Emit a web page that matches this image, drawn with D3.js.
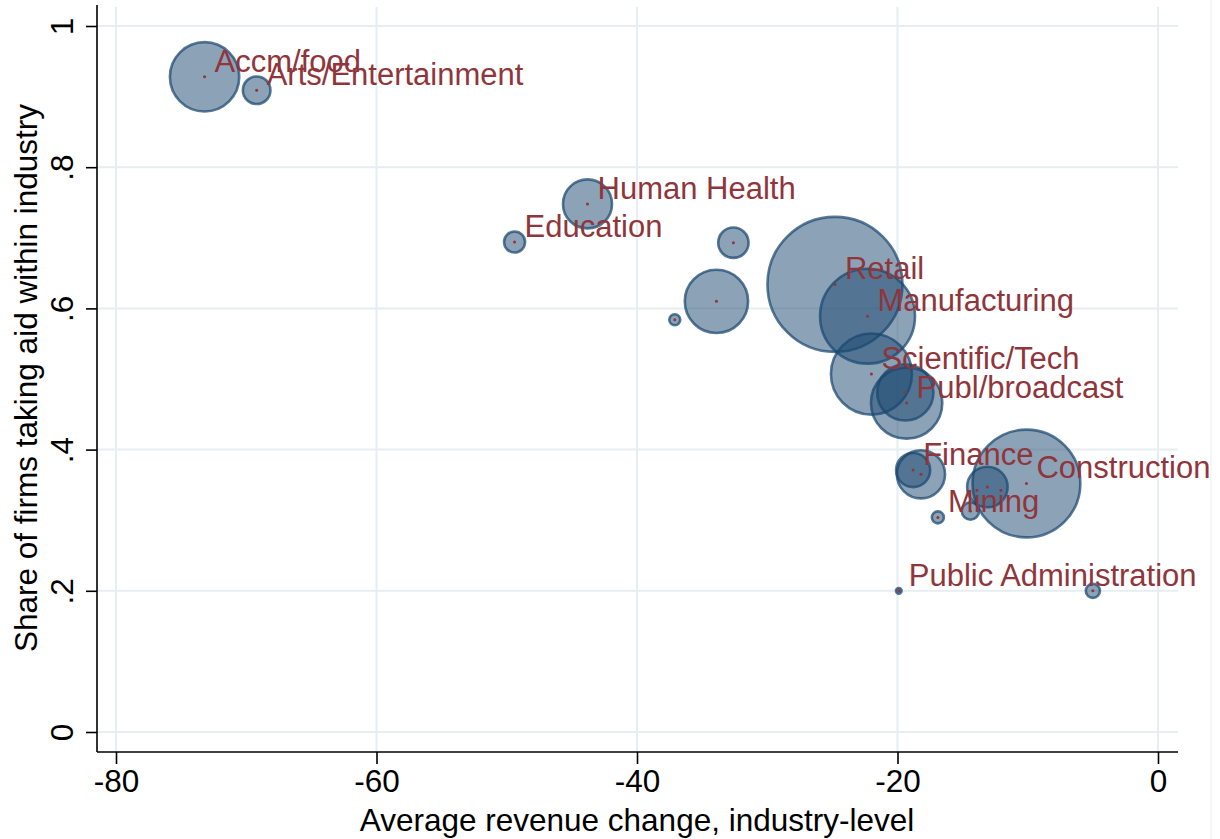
<!DOCTYPE html>
<html>
<head>
<meta charset="utf-8">
<script src="https://cdn.jsdelivr.net/npm/d3@7"></script>
<style>
  html, body { margin: 0; padding: 0; background: #ffffff; }
  svg { display: block; }
  text { font-family: "Liberation Sans", Arial, Helvetica, sans-serif; }
</style>
</head>
<body>
<svg id="chart" width="1220" height="839"></svg>
<script>
// ---- data ----
const industries = ["Accm/food", "Arts/Entertainment", "Human Health", "Education", "", "", "",
  "Retail", "Manufacturing", "Scientific/Tech", "", "Publ/broadcast", "Finance", "", "",
  "Construction", "", "Mining", "Public Administration", ""];
const revenueChange = [-73.2, -69.2, -43.8, -49.4, -32.6, -37.1, -33.9,
  -24.8, -22.3, -22.0, -19.4, -19.3, -18.8, -18.2, -13.1,
  -10.1, -14.4, -16.9, -19.9, -5.0];
const aidShare = [0.928, 0.909, 0.748, 0.694, 0.693, 0.584, 0.610,
  0.634, 0.589, 0.507, 0.481, 0.466, 0.371, 0.365, 0.347,
  0.352, 0.313, 0.304, 0.200, 0.200];
const firmWeight = [12.0, 1.9, 6.0, 1.1, 2.3, 0.3, 10.0,
  45.5, 22.5, 16.4, 7.9, 12.7, 2.9, 5.8, 4.1,
  29.0, 0.75, 0.36, 0.08, 0.5];

const xTicks = [-80, -60, -40, -20, 0];
const xTickLabels = ["-80", "-60", "-40", "-20", "0"];
const yTicks = [0, 0.2, 0.4, 0.6, 0.8, 1];
const yTickLabels = ["0", ".2", ".4", ".6", ".8", "1"];

const xTitle = "Average revenue change, industry-level";
const yTitle = "Share of firms taking aid within industry";

// ---- layout ----
const plotLeft = 97, plotRight = 1178, plotTop = 5, plotBottom = 752;
const x = d3.scaleLinear().domain([-80, 0]).range([116, 1158]);
const y = d3.scaleLinear().domain([0, 1]).range([732, 26]);
const r = d3.scaleSqrt().domain([0, d3.max(firmWeight)]).range([0, 67.5]);

const navy = "#1a476f";
const maroon = "#90353b";
const gridColor = "#e6eef1";

const svg = d3.select("#chart");

// faint outer border line at right
svg.append("line").attr("x1", 1211).attr("x2", 1211).attr("y1", 0).attr("y2", 839)
  .attr("stroke", "#f1f5f7").attr("stroke-width", 1.5);

// grid
const grid = svg.append("g");
grid.selectAll("line.h").data(yTicks).join("line")
  .attr("x1", plotLeft).attr("x2", plotRight)
  .attr("y1", d => y(d)).attr("y2", d => y(d))
  .attr("stroke", gridColor).attr("stroke-width", 2);
grid.selectAll("line.v").data(xTicks).join("line")
  .attr("x1", d => x(d)).attr("x2", d => x(d))
  .attr("y1", 7).attr("y2", plotBottom)
  .attr("stroke", gridColor).attr("stroke-width", 2);

// data rows
const rows = industries.map((name, i) => ({
  name, rc: revenueChange[i], share: aidShare[i], w: firmWeight[i]
}));

// bubbles
svg.append("g").selectAll("circle").data(rows).join("circle")
  .attr("cx", d => x(d.rc)).attr("cy", d => y(d.share))
  .attr("r", d => Math.max(r(d.w), 2.2))
  .attr("fill", navy).attr("fill-opacity", 0.5)
  .attr("stroke", navy).attr("stroke-opacity", 0.72).attr("stroke-width", 2.6);

// centre dots
svg.append("g").selectAll("circle").data(rows).join("circle")
  .attr("cx", d => x(d.rc)).attr("cy", d => y(d.share))
  .attr("r", 1.5).attr("fill", maroon);

// labels
svg.append("g").selectAll("text").data(rows.filter(d => d.name)).join("text")
  .attr("x", d => x(d.rc) + 10).attr("y", d => y(d.share) - 5)
  .attr("fill", maroon).attr("font-size", 31)
  .text(d => d.name);

// axes
const xAxis = svg.append("g").attr("transform", `translate(0,${plotBottom})`)
  .call(d3.axisBottom(x).tickValues(xTicks).tickFormat((d, i) => xTickLabels[i])
    .tickSize(12).tickSizeOuter(0).tickPadding(6));
xAxis.select(".domain").remove();
xAxis.selectAll(".tick line").attr("stroke", "#000").attr("stroke-width", 1.6);
xAxis.selectAll(".tick text").attr("font-size", 31.5).attr("fill", "#000")
  .attr("font-family", "'Liberation Sans', Arial, sans-serif");
xAxis.append("line").attr("x1", plotLeft).attr("x2", plotRight).attr("y1", 0).attr("y2", 0)
  .attr("stroke", "#000").attr("stroke-width", 1.6);

const yAxis = svg.append("g").attr("transform", `translate(${plotLeft},0)`)
  .call(d3.axisLeft(y).tickValues(yTicks).tickFormat((d, i) => yTickLabels[i])
    .tickSize(11).tickSizeOuter(0));
yAxis.select(".domain").remove();
yAxis.selectAll(".tick line").attr("stroke", "#000").attr("stroke-width", 1.6);
yAxis.selectAll(".tick text")
  .attr("font-size", 31.5).attr("fill", "#000")
  .attr("font-family", "'Liberation Sans', Arial, sans-serif")
  .attr("x", null).attr("dy", null)
  .attr("text-anchor", "middle")
  .attr("transform", "translate(-24,0) rotate(-90)");
yAxis.append("line").attr("x1", 0).attr("x2", 0).attr("y1", plotTop).attr("y2", plotBottom)
  .attr("stroke", "#000").attr("stroke-width", 1.6);

// titles
svg.append("text").attr("x", 637).attr("y", 831)
  .attr("text-anchor", "middle").attr("font-size", 31.5).attr("fill", "#000")
  .text(xTitle);
svg.append("text")
  .attr("transform", `translate(37,378) rotate(-90)`)
  .attr("text-anchor", "middle").attr("font-size", 31.5).attr("fill", "#000")
  .text(yTitle);
</script>
</body>
</html>
